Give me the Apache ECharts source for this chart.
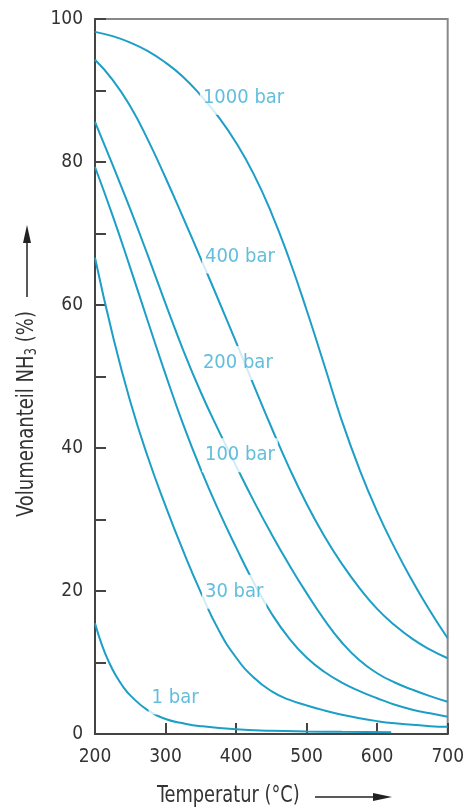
<!DOCTYPE html>
<html>
<head>
<meta charset="utf-8">
<script src="https://cdn.jsdelivr.net/npm/echarts@6/dist/echarts.min.js"></script>
<style>html,body{margin:0;padding:0;background:#fff;}#c{width:467px;height:809px;}</style>
</head>
<body>
<div id="c"></div>
<script>
// Temperatures (°C)
const temps = [200,225,250,275,300,325,350,375,400,425,450,475,500,525,550,575,600,625,650,675,700];
// Volumenanteil NH3 (%) per pressure
const p1000 = [98.2,97.6,96.7,95.5,93.9,91.9,89.3,86.3,82.7,78.3,72.9,66.5,59.3,51.6,43.8,37.0,31.1,26.0,21.4,17.2,13.4];
const p400  = [94.3,91.5,87.8,83.1,77.8,72.2,66.5,60.7,54.8,48.8,42.9,37.3,32.2,27.7,23.8,20.4,17.5,15.2,13.3,11.8,10.6];
const p200  = [85.6,79.6,73.4,66.9,60.2,53.7,47.8,42.5,37.5,32.6,28.0,23.7,19.7,16.0,12.8,10.3,8.5,7.2,6.2,5.3,4.5];
const p100  = [79.3,72.5,65.2,57.7,50.3,43.3,37.0,31.3,26.1,21.2,16.9,13.4,10.7,8.7,7.2,6.0,5.0,4.1,3.4,2.9,2.4];
const p30   = [66.6,55.8,46.5,38.7,31.9,25.6,19.8,14.6,10.7,7.9,6.0,4.8,4.0,3.3,2.7,2.2,1.8,1.5,1.3,1.1,1.0];
const temps1 = [200,210,220,230,240,250,275,300,325,350,400,450,500,550,620];
const p1    = [15.5,12.4,10.0,8.1,6.6,5.4,3.3,2.1,1.5,1.1,0.65,0.45,0.35,0.3,0.25];

const seriesNames = ['1000 bar','400 bar','200 bar','100 bar','30 bar','1 bar'];
const xTicks = [200,300,400,500,600,700];
const yTickLabels = [0,20,40,60,80,100];

// label anchors (data coords, left-middle of label)
const labelAnchors = [
  [348.7, 89.0, '1000 bar'],
  [351.6, 66.8, '400 bar'],
  [348.7, 51.9, '200 bar'],
  [351.6, 39.0, '100 bar'],
  [351.6, 19.9, '30 bar'],
  [276.0, 5.1, '1 bar']
];

const FONT = '"Liberation Sans Narrow","DejaVu Sans Condensed","Liberation Sans",sans-serif';
const LINE = '#1c9fc6';
const LABEL = '#3aaed3';
const AXIS = '#444';

function pairs(xs, ys){ return xs.map((x,i)=>[x, ys[i]]); }
const sets = [pairs(temps,p1000),pairs(temps,p400),pairs(temps,p200),pairs(temps,p100),pairs(temps,p30),pairs(temps1,p1)];

const chart = echarts.init(document.getElementById('c'), null, {renderer:'canvas'});
const series = sets.map((d,i)=>({
  name: seriesNames[i], type:'line', data:d, smooth:0.5,
  showSymbol:false, silent:true, z:2,
  lineStyle:{color:LINE, width:2}
}));
series.push({
  type:'scatter', data:labelAnchors, symbolSize:0, silent:true, z:10,
  label:{show:true, position:'right', distance:0, formatter:p=>p.data[2],
    color:LABEL, fontSize:20, fontFamily:FONT, backgroundColor:'#fff', padding:[7,3,7,3]}
});

chart.setOption({
  animation:false,
  backgroundColor:'#fff',
  grid:{left:95, right:19, top:19, bottom:75, show:true, borderColor:'#888', borderWidth:2, backgroundColor:'transparent'},
  xAxis:{type:'value', min:200, max:700, interval:100,
    axisLine:{show:true, lineStyle:{color:AXIS, width:2}},
    axisTick:{show:true, inside:true, length:11, lineStyle:{color:AXIS, width:2}},
    axisLabel:{color:'#333', fontSize:19, fontFamily:FONT, margin:14,
      formatter:v=>xTicks.includes(v)?String(v):''},
    splitLine:{show:false}},
  yAxis:{type:'value', min:0, max:100, interval:10,
    axisLine:{show:true, lineStyle:{color:AXIS, width:2}},
    axisTick:{show:true, inside:true, length:11, lineStyle:{color:AXIS, width:2}},
    axisLabel:{color:'#333', fontSize:19, fontFamily:FONT, margin:12,
      formatter:v=>yTickLabels.includes(v)?String(v):''},
    splitLine:{show:false}},
  graphic:[
    {type:'text', x:27, y:414, rotation:Math.PI/2, scaleX:0.87,
      style:{text:'Volumenanteil NH{sub|3} (%)', fill:'#333', font:'23px '+FONT, align:'center', verticalAlign:'middle',
        rich:{sub:{fontSize:15, fontFamily:FONT, fill:'#333', padding:[10,0,0,0]}}}},
    {type:'line', shape:{x1:27, y1:297, x2:27, y2:240}, style:{stroke:'#222', lineWidth:1.5}},
    {type:'polygon', shape:{points:[[27,225],[23,243],[31,243]]}, style:{fill:'#222'}},
    {type:'text', x:157, y:796, scaleX:0.86,
      style:{text:'Temperatur (°C)', fill:'#333', font:'23px '+FONT, align:'left', verticalAlign:'middle'}},
    {type:'line', shape:{x1:315, y1:797, x2:378, y2:797}, style:{stroke:'#222', lineWidth:1.5}},
    {type:'polygon', shape:{points:[[392,797],[373,793],[373,801]]}, style:{fill:'#222'}}
  ],
  series:series
});
</script>
</body>
</html>
